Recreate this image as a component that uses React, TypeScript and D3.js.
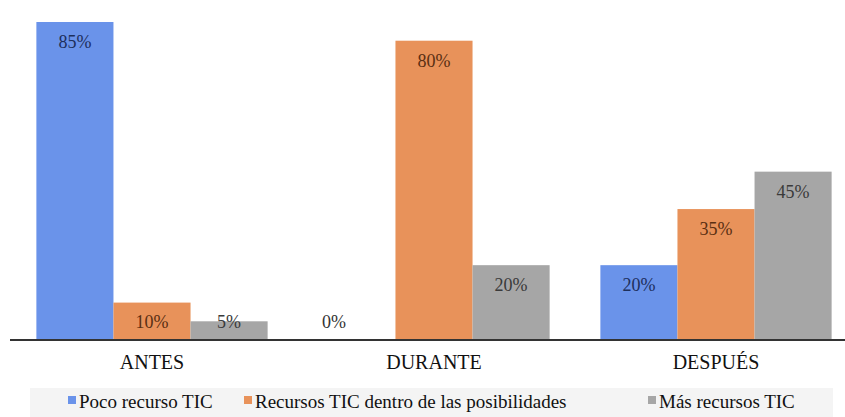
import React from "react";
import * as d3 from "d3";

const categories = ["ANTES", "DURANTE", "DESPUÉS"];
const seriesNames = ["Poco recurso TIC", "Recursos TIC dentro de las posibilidades", "Más recursos TIC"];
const poco = [85, 0, 20];
const dentro = [10, 80, 35];
const mas = [5, 20, 45];
const colors = ["#6a93ea", "#e8925a", "#a6a6a6"];
const labelColors = ["#1d2f5c", "#5a2f12", "#3a3a3a"];

const W = 845, H = 417;
const serif = "'Liberation Serif'";

function T(props: any) {
  const { children, ...rest } = props;
  return (
    <text style={{ fontFamily: serif }} {...rest}>
      {children}
    </text>
  );
}

export default function App() {
  const series = [poco, dentro, mas];
  const baseline = 340;
  const x0 = d3.scaleBand().domain(categories).range([11, 857]).paddingInner(0.18).paddingOuter(0.09);
  const x1 = d3.scaleBand().domain(seriesNames).range([0, x0.bandwidth()]).padding(0);
  const y = d3.scaleLinear().domain([0, 85]).range([baseline, 22]);
  const legendX = [68, 244, 648];
  return (
    <svg width={W} height={H} style={{ display: "block", position: "absolute", left: 0, top: 0, background: "#fff" }}>
      {categories.map((c, ci) => (
        <g key={c} transform={`translate(${x0(c)},0)`}>
          {seriesNames.map((s, si) => {
            const v = series[si][ci];
            const top = y(v);
            const bx = x1(s)!;
            const ly = Math.min(top + 26, baseline - 12);
            return (
              <g key={s}>
                {v > 0 && <rect x={bx} y={top} width={x1.bandwidth()} height={baseline - top} fill={colors[si]} />}
                <T x={bx + x1.bandwidth() / 2 - (v === 0 ? 23 : 0)} y={ly} textAnchor="middle" fontSize={18} fill={v > 0 ? labelColors[si] : "#333"}>
                  {v}%
                </T>
              </g>
            );
          })}
          <T x={x0.bandwidth() / 2} y={369} textAnchor="middle" fontSize={20} fill="#111">{c}</T>
        </g>
      ))}
      <line x1={10} x2={845} y1={baseline} y2={baseline} stroke="#333" strokeWidth={2} />
      <rect x={30} y={388} width={803} height={29} fill="#f4f4f4" />
      {seriesNames.map((s, si) => (
        <g key={s} transform={`translate(${legendX[si]},0)`}>
          <rect x={0} y={396} width={8} height={8} fill={colors[si]} />
          <T x={11} y={408} fontSize={19} fill="#111">{s}</T>
        </g>
      ))}
    </svg>
  );
}
